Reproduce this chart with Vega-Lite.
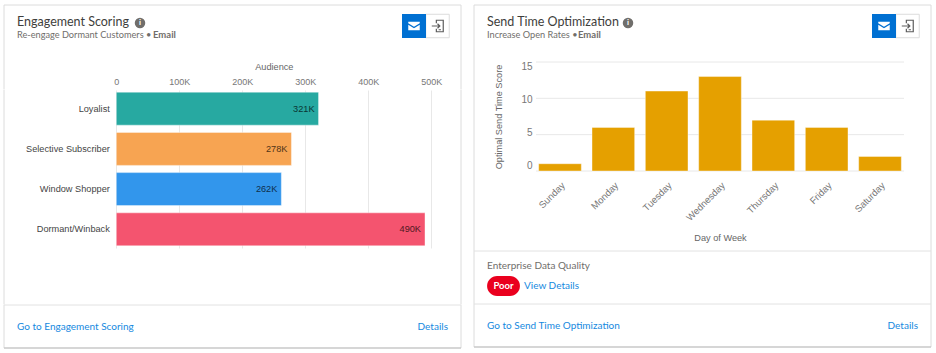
{"$schema":"https://vega.github.io/schema/vega-lite/v6.json","background":"white","padding":{"left":3,"top":4,"right":0,"bottom":0},"config":{"view":{"stroke":null},"text":{"font":"Lato"}},"spacing":11,"hconcat":[
{"vconcat":[
{"width":457,"height":84.5,"resolve":{"scale":{"x":"independent","y":"independent"}},"layer":[
{"data":{"values":[{"edge":"left"},{"edge":"right"}]},"mark":{"type":"rule","color":"#dcdcdc"},"encoding":{"x":{"field":"edge","type":"nominal","scale":{"type":"point","padding":0,"range":[0,457]},"axis":null}}},
{"data":{"values":[{"edge":"top"}]},"mark":{"type":"rule","color":"#dcdcdc"},"encoding":{"y":{"field":"edge","type":"nominal","scale":{"type":"point","padding":0,"range":[0,0]},"axis":null}}},
{"data":{"values":[{"text":"Engagement Scoring","slot":"a"}]},"mark":{"type":"text","align":"left","baseline":"middle","fontSize":12.5,"fontWeight":400,"color":"#3e3e3c"},"encoding":{"text":{"field":"text"},"x":{"field":"slot","type":"nominal","scale":{"type":"point","padding":0,"range":[13,13]},"axis":null},"y":{"field":"slot","type":"nominal","scale":{"type":"point","padding":0,"range":[17,17]},"axis":null}}},
{"data":{"values":[{"text":"Re-engage Dormant Customers •","slot":"a"}]},"mark":{"type":"text","align":"left","baseline":"middle","fontSize":9.2,"color":"#706e6b"},"encoding":{"text":{"field":"text"},"x":{"field":"slot","type":"nominal","scale":{"type":"point","padding":0,"range":[13,13]},"axis":null},"y":{"field":"slot","type":"nominal","scale":{"type":"point","padding":0,"range":[30,30]},"axis":null}}},
{"data":{"values":[{"text":"Email","slot":"a"}]},"mark":{"type":"text","align":"left","baseline":"middle","fontSize":9.5,"fontWeight":700,"color":"#706e6b"},"encoding":{"text":{"field":"text"},"x":{"field":"slot","type":"nominal","scale":{"type":"point","padding":0,"range":[149,149]},"axis":null},"y":{"field":"slot","type":"nominal","scale":{"type":"point","padding":0,"range":[30,30]},"axis":null}}},
{"data":{"values":[{"slot":"a"}]},"mark":{"type":"point","filled":true,"shape":"circle","size":110,"color":"#706e6b","opacity":1},"encoding":{"x":{"field":"slot","type":"nominal","scale":{"type":"point","padding":0,"range":[136,136]},"axis":null},"y":{"field":"slot","type":"nominal","scale":{"type":"point","padding":0,"range":[18,18]},"axis":null}}},
{"data":{"values":[{"text":"i","slot":"a"}]},"mark":{"type":"text","align":"center","baseline":"middle","fontSize":8,"fontWeight":700,"color":"white"},"encoding":{"text":{"field":"text"},"x":{"field":"slot","type":"nominal","scale":{"type":"point","padding":0,"range":[136,136]},"axis":null},"y":{"field":"slot","type":"nominal","scale":{"type":"point","padding":0,"range":[18,18]},"axis":null}}},
{"data":{"values":[{"slot":"exit"}]},"mark":{"type":"point","filled":true,"shape":"square","size":552,"color":"white","stroke":"#dcdcdc","strokeWidth":1,"opacity":1},"encoding":{"x":{"field":"slot","type":"nominal","scale":{"type":"point","padding":0,"range":[433.5,433.5]},"axis":null},"y":{"field":"slot","type":"nominal","scale":{"type":"point","padding":0,"range":[21,21]},"axis":null}}},
{"data":{"values":[{"slot":"mail"}]},"mark":{"type":"point","filled":true,"shape":"square","size":576,"color":"#0070d2","opacity":1},"encoding":{"x":{"field":"slot","type":"nominal","scale":{"type":"point","padding":0,"range":[410,410]},"axis":null},"y":{"field":"slot","type":"nominal","scale":{"type":"point","padding":0,"range":[21,21]},"axis":null}}},
{"data":{"values":[{"slot":"mail"}]},"mark":{"type":"point","filled":true,"shape":"M-1,-0.75 L1,-0.75 L1,-0.5 L0,0.12 L-1,-0.5Z M-1,-0.22 L0,0.4 L1,-0.22 L1,0.75 L-1,0.75Z","size":132,"color":"white","opacity":1},"encoding":{"x":{"field":"slot","type":"nominal","scale":{"type":"point","padding":0,"range":[410,410]},"axis":null},"y":{"field":"slot","type":"nominal","scale":{"type":"point","padding":0,"range":[21,21]},"axis":null}}},
{"data":{"values":[{"slot":"exit"}]},"mark":{"type":"point","filled":false,"shape":"M-0.2,-0.5 L-0.2,-1 L1,-1 L1,1 L-0.2,1 L-0.2,0.5 M-1,0 L0.4,0 M0,-0.4 L0.4,0 L0,0.4 M0.2,0.65 L0.6,0.65","size":132,"color":"#5c5c5c","strokeWidth":1.2,"opacity":1},"encoding":{"x":{"field":"slot","type":"nominal","scale":{"type":"point","padding":0,"range":[433.5,433.5]},"axis":null},"y":{"field":"slot","type":"nominal","scale":{"type":"point","padding":0,"range":[21,21]},"axis":null}}}
]},
{"width":457,"height":158,"resolve":{"scale":{"x":"independent"}},"layer":[
{"data":{"values":[{"edge":"left"},{"edge":"right"}]},"mark":{"type":"rule","color":"#dcdcdc"},"encoding":{"x":{"field":"edge","type":"nominal","scale":{"type":"point","padding":0,"range":[0,457]},"axis":null}}},
{"data":{"values":[{"segment":"Loyalist","audience":321000},{"segment":"Selective Subscriber","audience":278000},{"segment":"Window Shopper","audience":262000},{"segment":"Dormant/Winback","audience":490000}]},
"encoding":{"x":{"field":"audience","type":"quantitative","title":"Audience","scale":{"domain":[0,500000],"nice":false,"range":[112.3,427.3]},"axis":{"orient":"top","values":[0,100000,200000,300000,400000,500000],"labelExpr":"datum.value==0?'0':datum.value/1000+'K'","ticks":false,"domain":false,"grid":true,"gridColor":"#e8e8e8","labelFont":"Liberation Sans","labelFontSize":9,"labelColor":"#777","labelPadding":4,"labelFlush":false,"titleFont":"Liberation Sans","titleFontSize":9.2,"titleFontWeight":"normal","titleColor":"#666","titlePadding":6}},
"y":{"field":"segment","type":"nominal","title":null,"sort":["Loyalist","Selective Subscriber","Window Shopper","Dormant/Winback"],"scale":{"paddingInner":0.18,"paddingOuter":0.054},"axis":{"orient":"left","offset":-112.3,"ticks":false,"domain":false,"labelFont":"Liberation Sans","labelFontSize":9.2,"labelColor":"#444","labelPadding":7,"labelLimit":110}}},
"layer":[
{"mark":{"type":"bar","stroke":"white","strokeOpacity":0.4,"strokeWidth":1},"encoding":{"color":{"field":"segment","type":"nominal","legend":null,"scale":{"domain":["Loyalist","Selective Subscriber","Window Shopper","Dormant/Winback"],"range":["#27a9a1","#f7a452","#3296ec","#f4546f"]}}}},
{"mark":{"type":"text","align":"right","baseline":"middle","dx":-4,"font":"Liberation Sans","fontSize":9.2,"color":"#000","opacity":0.7},"encoding":{"text":{"field":"label"}},"transform":[{"lookup":"segment","from":{"data":{"values":[{"segment":"Loyalist","label":"321K"},{"segment":"Selective Subscriber","label":"278K"},{"segment":"Window Shopper","label":"262K"},{"segment":"Dormant/Winback","label":"490K"}]},"key":"segment","fields":["label"]}}]}
]}
]},
{"width":457,"height":56.5,"data":{"values":[{"edge":"left"},{"edge":"right"}]},"mark":{"type":"rule","color":"#dcdcdc"},"encoding":{"x":{"field":"edge","type":"nominal","scale":{"type":"point","padding":0,"range":[0,457]},"axis":null}}},
{"width":457,"height":43,"resolve":{"scale":{"x":"independent","y":"independent"}},"layer":[
{"data":{"values":[{"edge":"left"},{"edge":"right"}]},"mark":{"type":"rule","color":"#dcdcdc"},"encoding":{"x":{"field":"edge","type":"nominal","scale":{"type":"point","padding":0,"range":[0,457]},"axis":null}}},
{"data":{"values":[{"edge":"sep"}]},"mark":{"type":"rule","color":"#e2e2e2"},"encoding":{"y":{"field":"edge","type":"nominal","scale":{"type":"point","padding":0,"range":[0,0]},"axis":null}}},
{"data":{"values":[{"edge":"bottom"}]},"mark":{"type":"rule","color":"#c9c9c9","strokeWidth":1.5},"encoding":{"y":{"field":"edge","type":"nominal","scale":{"type":"point","padding":0,"range":[43,43]},"axis":null}}},
{"data":{"values":[{"text":"Go to Engagement Scoring","slot":"a"}]},"mark":{"type":"text","align":"left","baseline":"middle","fontSize":10,"color":"#1589e0"},"encoding":{"text":{"field":"text"},"x":{"field":"slot","type":"nominal","scale":{"type":"point","padding":0,"range":[13,13]},"axis":null}}},
{"data":{"values":[{"text":"Details","slot":"a"}]},"mark":{"type":"text","align":"right","baseline":"middle","fontSize":10,"color":"#1589e0"},"encoding":{"text":{"field":"text"},"x":{"field":"slot","type":"nominal","scale":{"type":"point","padding":0,"range":[444,444]},"axis":null}}}
]}
],"spacing":0,"bounds":"flush"},
{"vconcat":[
{"width":457,"height":57,"resolve":{"scale":{"x":"independent","y":"independent"}},"layer":[
{"data":{"values":[{"edge":"left"},{"edge":"right"}]},"mark":{"type":"rule","color":"#dcdcdc"},"encoding":{"x":{"field":"edge","type":"nominal","scale":{"type":"point","padding":0,"range":[0,457]},"axis":null}}},
{"data":{"values":[{"edge":"top"}]},"mark":{"type":"rule","color":"#dcdcdc"},"encoding":{"y":{"field":"edge","type":"nominal","scale":{"type":"point","padding":0,"range":[0,0]},"axis":null}}},
{"data":{"values":[{"text":"Send Time Optimization","slot":"a"}]},"mark":{"type":"text","align":"left","baseline":"middle","fontSize":12.5,"fontWeight":400,"color":"#3e3e3c"},"encoding":{"text":{"field":"text"},"x":{"field":"slot","type":"nominal","scale":{"type":"point","padding":0,"range":[13,13]},"axis":null},"y":{"field":"slot","type":"nominal","scale":{"type":"point","padding":0,"range":[17,17]},"axis":null}}},
{"data":{"values":[{"text":"Increase Open Rates •","slot":"a"}]},"mark":{"type":"text","align":"left","baseline":"middle","fontSize":9.2,"color":"#706e6b"},"encoding":{"text":{"field":"text"},"x":{"field":"slot","type":"nominal","scale":{"type":"point","padding":0,"range":[13,13]},"axis":null},"y":{"field":"slot","type":"nominal","scale":{"type":"point","padding":0,"range":[30,30]},"axis":null}}},
{"data":{"values":[{"text":"Email","slot":"a"}]},"mark":{"type":"text","align":"left","baseline":"middle","fontSize":9.5,"fontWeight":700,"color":"#706e6b"},"encoding":{"text":{"field":"text"},"x":{"field":"slot","type":"nominal","scale":{"type":"point","padding":0,"range":[104,104]},"axis":null},"y":{"field":"slot","type":"nominal","scale":{"type":"point","padding":0,"range":[30,30]},"axis":null}}},
{"data":{"values":[{"slot":"a"}]},"mark":{"type":"point","filled":true,"shape":"circle","size":110,"color":"#706e6b","opacity":1},"encoding":{"x":{"field":"slot","type":"nominal","scale":{"type":"point","padding":0,"range":[154,154]},"axis":null},"y":{"field":"slot","type":"nominal","scale":{"type":"point","padding":0,"range":[18,18]},"axis":null}}},
{"data":{"values":[{"text":"i","slot":"a"}]},"mark":{"type":"text","align":"center","baseline":"middle","fontSize":8,"fontWeight":700,"color":"white"},"encoding":{"text":{"field":"text"},"x":{"field":"slot","type":"nominal","scale":{"type":"point","padding":0,"range":[154,154]},"axis":null},"y":{"field":"slot","type":"nominal","scale":{"type":"point","padding":0,"range":[18,18]},"axis":null}}},
{"data":{"values":[{"slot":"exit"}]},"mark":{"type":"point","filled":true,"shape":"square","size":552,"color":"white","stroke":"#dcdcdc","strokeWidth":1,"opacity":1},"encoding":{"x":{"field":"slot","type":"nominal","scale":{"type":"point","padding":0,"range":[433.5,433.5]},"axis":null},"y":{"field":"slot","type":"nominal","scale":{"type":"point","padding":0,"range":[21,21]},"axis":null}}},
{"data":{"values":[{"slot":"mail"}]},"mark":{"type":"point","filled":true,"shape":"square","size":576,"color":"#0070d2","opacity":1},"encoding":{"x":{"field":"slot","type":"nominal","scale":{"type":"point","padding":0,"range":[410,410]},"axis":null},"y":{"field":"slot","type":"nominal","scale":{"type":"point","padding":0,"range":[21,21]},"axis":null}}},
{"data":{"values":[{"slot":"mail"}]},"mark":{"type":"point","filled":true,"shape":"M-1,-0.75 L1,-0.75 L1,-0.5 L0,0.12 L-1,-0.5Z M-1,-0.22 L0,0.4 L1,-0.22 L1,0.75 L-1,0.75Z","size":132,"color":"white","opacity":1},"encoding":{"x":{"field":"slot","type":"nominal","scale":{"type":"point","padding":0,"range":[410,410]},"axis":null},"y":{"field":"slot","type":"nominal","scale":{"type":"point","padding":0,"range":[21,21]},"axis":null}}},
{"data":{"values":[{"slot":"exit"}]},"mark":{"type":"point","filled":false,"shape":"M-0.2,-0.5 L-0.2,-1 L1,-1 L1,1 L-0.2,1 L-0.2,0.5 M-1,0 L0.4,0 M0,-0.4 L0.4,0 L0,0.4 M0.2,0.65 L0.6,0.65","size":132,"color":"#5c5c5c","strokeWidth":1.2,"opacity":1},"encoding":{"x":{"field":"slot","type":"nominal","scale":{"type":"point","padding":0,"range":[433.5,433.5]},"axis":null},"y":{"field":"slot","type":"nominal","scale":{"type":"point","padding":0,"range":[21,21]},"axis":null}}}
]},
{"width":457,"height":109,"resolve":{"scale":{"x":"independent"}},"layer":[
{"data":{"values":[{"edge":"left"},{"edge":"right"}]},"mark":{"type":"rule","color":"#dcdcdc"},"encoding":{"x":{"field":"edge","type":"nominal","scale":{"type":"point","padding":0,"range":[0,457]},"axis":null}}},
{"data":{"values":[{"tick":0},{"tick":5},{"tick":10},{"tick":15}]},"mark":{"type":"rule","color":"#e8e8e8"},"encoding":{"y":{"field":"tick","type":"quantitative","scale":{"domain":[0,15],"nice":false},"title":"Optimal Send Time Score","axis":{"orient":"left","offset":-58,"values":[0,5,10,15],"ticks":false,"domain":false,"grid":false,"labelOverlap":false,"labelFlush":false,"labelFont":"Liberation Sans","labelFontSize":10,"labelColor":"#777","labelPadding":0,"labelOffset":{"expr":"4-(15-datum.value)*0.63"},"titleFont":"Liberation Sans","titleFontSize":9.2,"titleFontWeight":"normal","titleColor":"#666","titlePadding":17}},"x":{"datum":0,"type":"quantitative","scale":{"domain":[0,1],"range":[62,430]},"axis":null},"x2":{"datum":1}}},
{"data":{"values":[{"day":"Sunday","score":1},{"day":"Monday","score":6},{"day":"Tuesday","score":11},{"day":"Wednesday","score":13},{"day":"Thursday","score":7},{"day":"Friday","score":6},{"day":"Saturday","score":2}]},"mark":{"type":"bar","color":"#e5a000","stroke":"white","strokeOpacity":0.4,"strokeWidth":1},"encoding":{"x":{"field":"day","type":"nominal","title":"Day of Week","sort":["Sunday","Monday","Tuesday","Wednesday","Thursday","Friday","Saturday"],"scale":{"range":[62,430],"paddingInner":0.2,"paddingOuter":0.05},"axis":{"orient":"bottom","ticks":false,"domain":false,"labelAngle":315,"labelFont":"Liberation Sans","labelFontSize":9.5,"labelColor":"#777","labelPadding":9,"titleFont":"Liberation Sans","titleFontSize":9.2,"titleFontWeight":"normal","titleColor":"#666","titlePadding":11}},"y":{"field":"score","type":"quantitative","title":"Optimal Send Time Score","axis":{"orient":"left","offset":-58,"values":[0,5,10,15],"ticks":false,"domain":false,"grid":false,"labelOverlap":false,"labelFlush":false,"labelFont":"Liberation Sans","labelFontSize":10,"labelColor":"#777","labelPadding":0,"labelOffset":{"expr":"4-(15-datum.value)*0.63"},"titleFont":"Liberation Sans","titleFontSize":9.2,"titleFontWeight":"normal","titleColor":"#666","titlePadding":17}}}}
]},
{"width":457,"height":80,"data":{"values":[{"edge":"left"},{"edge":"right"}]},"mark":{"type":"rule","color":"#dcdcdc"},"encoding":{"x":{"field":"edge","type":"nominal","scale":{"type":"point","padding":0,"range":[0,457]},"axis":null}}},
{"width":457,"height":53,"resolve":{"scale":{"x":"independent","y":"independent"}},"layer":[
{"data":{"values":[{"edge":"left"},{"edge":"right"}]},"mark":{"type":"rule","color":"#dcdcdc"},"encoding":{"x":{"field":"edge","type":"nominal","scale":{"type":"point","padding":0,"range":[0,457]},"axis":null}}},
{"data":{"values":[{"edge":"sep"}]},"mark":{"type":"rule","color":"#e2e2e2"},"encoding":{"y":{"field":"edge","type":"nominal","scale":{"type":"point","padding":0,"range":[0,0]},"axis":null}}},
{"data":{"values":[{"text":"Enterprise Data Quality","slot":"a"}]},"mark":{"type":"text","align":"left","baseline":"middle","fontSize":10,"color":"#706e6b"},"encoding":{"text":{"field":"text"},"x":{"field":"slot","type":"nominal","scale":{"type":"point","padding":0,"range":[13,13]},"axis":null},"y":{"field":"slot","type":"nominal","scale":{"type":"point","padding":0,"range":[15,15]},"axis":null}}},
{"data":{"values":[{"slot":"a"}]},"mark":{"type":"point","filled":true,"shape":"M-0.39,-0.606 L0.39,-0.606 A0.606,0.606 0 0 1 0.39,0.606 L-0.39,0.606 A0.606,0.606 0 0 1 -0.39,-0.606 Z","size":1089,"color":"#ea001e","opacity":1},"encoding":{"x":{"field":"slot","type":"nominal","scale":{"type":"point","padding":0,"range":[29.5,29.5]},"axis":null},"y":{"field":"slot","type":"nominal","scale":{"type":"point","padding":0,"range":[35,35]},"axis":null}}},
{"data":{"values":[{"text":"Poor","slot":"a"}]},"mark":{"type":"text","align":"center","baseline":"middle","fontSize":9.5,"fontWeight":700,"color":"white"},"encoding":{"text":{"field":"text"},"x":{"field":"slot","type":"nominal","scale":{"type":"point","padding":0,"range":[29.5,29.5]},"axis":null},"y":{"field":"slot","type":"nominal","scale":{"type":"point","padding":0,"range":[35,35]},"axis":null}}},
{"data":{"values":[{"text":"View Details","slot":"a"}]},"mark":{"type":"text","align":"left","baseline":"middle","fontSize":10,"color":"#1589e0"},"encoding":{"text":{"field":"text"},"x":{"field":"slot","type":"nominal","scale":{"type":"point","padding":0,"range":[50,50]},"axis":null},"y":{"field":"slot","type":"nominal","scale":{"type":"point","padding":0,"range":[35,35]},"axis":null}}}
]},
{"width":457,"height":43,"resolve":{"scale":{"x":"independent","y":"independent"}},"layer":[
{"data":{"values":[{"edge":"left"},{"edge":"right"}]},"mark":{"type":"rule","color":"#dcdcdc"},"encoding":{"x":{"field":"edge","type":"nominal","scale":{"type":"point","padding":0,"range":[0,457]},"axis":null}}},
{"data":{"values":[{"edge":"sep"}]},"mark":{"type":"rule","color":"#e2e2e2"},"encoding":{"y":{"field":"edge","type":"nominal","scale":{"type":"point","padding":0,"range":[0,0]},"axis":null}}},
{"data":{"values":[{"edge":"bottom"}]},"mark":{"type":"rule","color":"#c9c9c9","strokeWidth":1.5},"encoding":{"y":{"field":"edge","type":"nominal","scale":{"type":"point","padding":0,"range":[43,43]},"axis":null}}},
{"data":{"values":[{"text":"Go to Send Time Optimization","slot":"a"}]},"mark":{"type":"text","align":"left","baseline":"middle","fontSize":10,"color":"#1589e0"},"encoding":{"text":{"field":"text"},"x":{"field":"slot","type":"nominal","scale":{"type":"point","padding":0,"range":[13,13]},"axis":null}}},
{"data":{"values":[{"text":"Details","slot":"a"}]},"mark":{"type":"text","align":"right","baseline":"middle","fontSize":10,"color":"#1589e0"},"encoding":{"text":{"field":"text"},"x":{"field":"slot","type":"nominal","scale":{"type":"point","padding":0,"range":[444,444]},"axis":null}}}
]}
],"spacing":0,"bounds":"flush"}
]}
